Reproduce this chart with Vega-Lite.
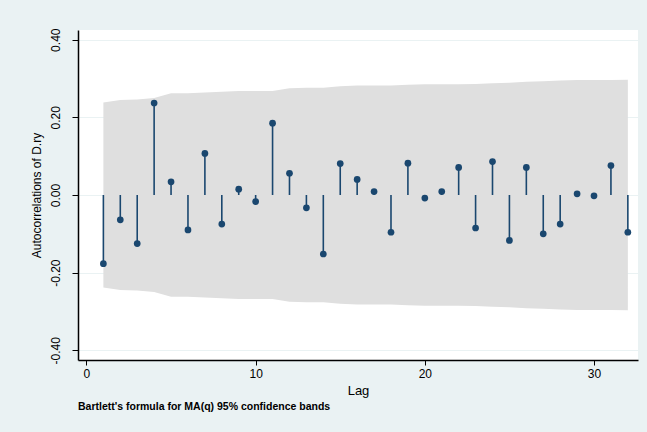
{
  "$schema": "https://vega.github.io/schema/vega-lite/v6.json",
  "width": 560,
  "height": 330,
  "autosize": {"type": "none"},
  "padding": {"left": 78, "top": 30, "right": 9, "bottom": 72},
  "background": "#eaf2f3",
  "config": {
    "view": {"fill": "white", "stroke": null},
    "font": "Liberation Sans"
  },
  "title": {
    "text": "Bartlett's formula for MA(q) 95% confidence bands",
    "orient": "bottom",
    "anchor": "start",
    "frame": "group",
    "fontSize": 10.5,
    "fontWeight": "bold",
    "color": "#000000",
    "offset": 5
  },
  "data": {
    "values": [
      {"lag": 1, "r": -0.177, "lo": -0.238, "hi": 0.238},
      {"lag": 2, "r": -0.064, "lo": -0.245, "hi": 0.245},
      {"lag": 3, "r": -0.125, "lo": -0.246, "hi": 0.246},
      {"lag": 4, "r": 0.237, "lo": -0.250, "hi": 0.250},
      {"lag": 5, "r": 0.034, "lo": -0.262, "hi": 0.262},
      {"lag": 6, "r": -0.090, "lo": -0.262, "hi": 0.262},
      {"lag": 7, "r": 0.107, "lo": -0.264, "hi": 0.264},
      {"lag": 8, "r": -0.075, "lo": -0.266, "hi": 0.266},
      {"lag": 9, "r": 0.015, "lo": -0.268, "hi": 0.268},
      {"lag": 10, "r": -0.017, "lo": -0.268, "hi": 0.268},
      {"lag": 11, "r": 0.185, "lo": -0.268, "hi": 0.268},
      {"lag": 12, "r": 0.056, "lo": -0.275, "hi": 0.275},
      {"lag": 13, "r": -0.033, "lo": -0.276, "hi": 0.276},
      {"lag": 14, "r": -0.152, "lo": -0.276, "hi": 0.276},
      {"lag": 15, "r": 0.081, "lo": -0.280, "hi": 0.280},
      {"lag": 16, "r": 0.040, "lo": -0.282, "hi": 0.282},
      {"lag": 17, "r": 0.009, "lo": -0.282, "hi": 0.282},
      {"lag": 18, "r": -0.096, "lo": -0.282, "hi": 0.282},
      {"lag": 19, "r": 0.082, "lo": -0.284, "hi": 0.284},
      {"lag": 20, "r": -0.008, "lo": -0.285, "hi": 0.285},
      {"lag": 21, "r": 0.009, "lo": -0.285, "hi": 0.285},
      {"lag": 22, "r": 0.071, "lo": -0.285, "hi": 0.285},
      {"lag": 23, "r": -0.085, "lo": -0.286, "hi": 0.286},
      {"lag": 24, "r": 0.086, "lo": -0.288, "hi": 0.288},
      {"lag": 25, "r": -0.117, "lo": -0.289, "hi": 0.289},
      {"lag": 26, "r": 0.071, "lo": -0.292, "hi": 0.292},
      {"lag": 27, "r": -0.100, "lo": -0.293, "hi": 0.293},
      {"lag": 28, "r": -0.075, "lo": -0.295, "hi": 0.295},
      {"lag": 29, "r": 0.003, "lo": -0.296, "hi": 0.296},
      {"lag": 30, "r": -0.002, "lo": -0.296, "hi": 0.296},
      {"lag": 31, "r": 0.076, "lo": -0.296, "hi": 0.296},
      {"lag": 32, "r": -0.096, "lo": -0.297, "hi": 0.297}
    ]
  },
  "layer": [
    {
      "mark": {"type": "area", "color": "#dfdfdf", "opacity": 1},
      "encoding": {
        "x": {
          "field": "lag",
          "type": "quantitative",
          "scale": {"domain": [-0.5, 32.6], "nice": false, "zero": false},
          "axis": {
            "title": "Lag",
            "values": [0, 10, 20, 30],
            "format": "d",
            "grid": false,
            "domainColor": "#000000",
            "domainWidth": 1.5,
            "tickColor": "#000000",
            "tickSize": 5,
            "tickWidth": 1,
            "labelFontSize": 12,
            "labelColor": "#000000",
            "labelPadding": 3,
            "titleFontSize": 13,
            "titleFontWeight": "normal",
            "titleColor": "#000000",
            "titlePadding": 5
          }
        },
        "y": {
          "field": "lo",
          "type": "quantitative",
          "scale": {"domain": [-0.425, 0.425], "nice": false},
          "axis": {
            "title": "Autocorrelations of D.ry",
            "values": [-0.4, -0.2, 0, 0.2, 0.4],
            "labelExpr": "replace(format(datum.value, '.2f'), '\u2212', '-')",
            "grid": true,
            "gridColor": "#eaf2f3",
            "gridWidth": 1,
            "domainColor": "#000000",
            "domainWidth": 1.5,
            "tickColor": "#000000",
            "tickSize": 6,
            "tickWidth": 1,
            "labelAngle": -90,
            "labelAlign": "center",
            "labelBaseline": "bottom",
            "labelFontSize": 12,
            "labelColor": "#000000",
            "labelPadding": 10,
            "titleFontSize": 12,
            "titleFontWeight": "normal",
            "titleColor": "#000000",
            "titlePadding": 6
          }
        },
        "y2": {"field": "hi"}
      }
    },
    {
      "mark": {"type": "rule", "color": "#1a476f", "strokeWidth": 1.6},
      "encoding": {
        "x": {"field": "lag", "type": "quantitative"},
        "y": {"field": "r", "type": "quantitative"},
        "y2": {"datum": 0}
      }
    },
    {
      "mark": {"type": "point", "filled": true, "color": "#1a476f", "size": 45, "opacity": 1},
      "encoding": {
        "x": {"field": "lag", "type": "quantitative"},
        "y": {"field": "r", "type": "quantitative"}
      }
    }
  ]
}
